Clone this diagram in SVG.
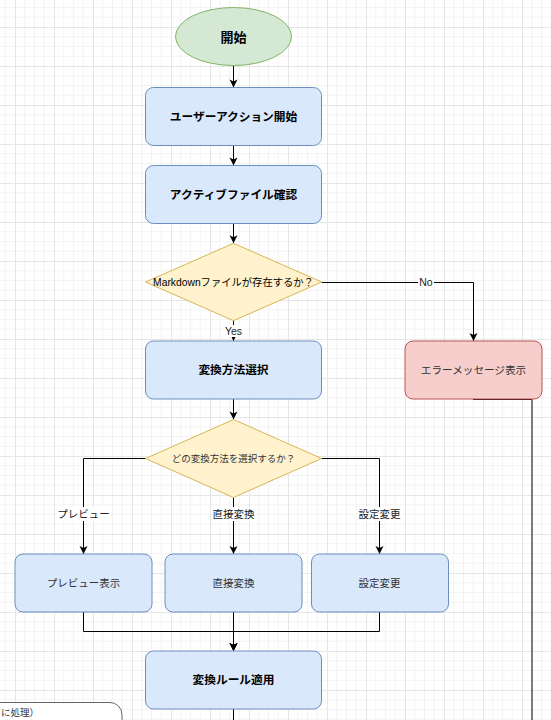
<svg xmlns="http://www.w3.org/2000/svg" width="551" height="720" viewBox="0 0 551 720">
<defs>
<pattern id="grid" x="15" y="27" width="39" height="39" patternUnits="userSpaceOnUse">
<path d="M9.75 0V39M19.5 0V39M29.25 0V39M0 9.75H39M0 19.5H39M0 29.25H39" stroke="#f3f3f3" stroke-width="1" fill="none"/>
<path d="M0.5 0V39M0 0.5H39" stroke="#e6e6e6" stroke-width="1" fill="none"/>
</pattern>
<marker id="arr" markerWidth="10" markerHeight="10" viewBox="0 0 10 10" refX="9" refY="5" orient="auto" markerUnits="userSpaceOnUse">
<path d="M1,1 L9,5 L1,9 L3,5 Z" fill="#000"/>
</marker>
</defs>
<style>
text{font-family:"Liberation Sans","Noto Sans CJK JP",sans-serif;text-anchor:middle}
.blue{fill:#dae8fc;stroke:#6c8ebf;stroke-width:1}
.dia{fill:#fff2cc;stroke:#d6b656;stroke-width:1}
.bold{font-weight:bold;font-size:11.7px;fill:#000}
.norm{font-size:10.5px;fill:#333}
.edge{fill:none;stroke:#000;stroke-width:1}
.lbl{font-size:10.5px;fill:#222}
.lblbg{fill:#fff}
</style>
<rect width="551" height="720" fill="#fff"/>
<rect width="551" height="720" fill="url(#grid)"/>

<g id="connectors">
<path class="edge" d="M233.5,66 V87.5" marker-end="url(#arr)"/>
<path class="edge" d="M233.5,145.5 V165.5" marker-end="url(#arr)"/>
<path class="edge" d="M233.5,223.5 V243.3" marker-end="url(#arr)"/>
<path class="edge" d="M321.7,282.5 H473.5 V341" marker-end="url(#arr)"/>
<rect class="lblbg" x="418" y="276" width="16" height="12"/>
<text class="lbl" x="426" y="286" style="font-size:10.5px">No</text>
<path class="edge" d="M233.5,320.7 V341" marker-end="url(#arr)"/>
<rect class="lblbg" x="224" y="325" width="19" height="12"/>
<text class="lbl" x="233.5" y="335">Yes</text>
<path class="edge" d="M233.5,399 V419.5" marker-end="url(#arr)"/>
<path class="edge" d="M146,458.5 H83.5 V554" marker-end="url(#arr)"/>
<rect class="lblbg" x="57" y="507" width="53" height="14"/>
<text class="lbl" x="83.5" y="518">プレビュー</text>
<path class="edge" d="M233.5,497.5 V554" marker-end="url(#arr)"/>
<rect class="lblbg" x="211" y="507" width="45" height="14"/>
<text class="lbl" x="233.5" y="518">直接変換</text>
<path class="edge" d="M321.5,458.5 H379.5 V554" marker-end="url(#arr)"/>
<rect class="lblbg" x="357" y="507" width="45" height="14"/>
<text class="lbl" x="379.5" y="518">設定変更</text>
<path class="edge" d="M83.5,612 V631.5 H233.5 V651" marker-end="url(#arr)"/>
<path class="edge" d="M233.5,612 V651" marker-end="url(#arr)"/>
<path class="edge" d="M379.5,612 V631.5 H233.5 V651" marker-end="url(#arr)"/>
<path class="edge" d="M473,399.5 H532 V720"/>
<path class="edge" d="M233.5,709 V720"/>
</g>

<g id="start">
<ellipse cx="233.5" cy="36.5" rx="58" ry="29" fill="#d5e8d4" stroke="#82b366" stroke-width="1"/>
<text x="233.5" y="41.5" style="font-weight:bold;font-size:13px;fill:#000">開始</text>
</g>
<g id="user-action">
<rect class="blue" x="145.5" y="87.5" width="176" height="58" rx="8"/>
<text class="bold" x="233.5" y="120.5">ユーザーアクション開始</text>
</g>
<g id="active-file">
<rect class="blue" x="145.5" y="165.5" width="176" height="58" rx="8"/>
<text class="bold" x="233.5" y="198.5">アクティブファイル確認</text>
</g>
<g id="decision-md">
<polygon class="dia" points="233.5,243.3 321.7,282 233.5,320.7 145.5,282"/>
<text x="233.5" y="285.5" style="font-size:10.3px;fill:#000">Markdownファイルが存在するか？</text>
</g>
<g id="select-method">
<rect class="blue" x="145.5" y="341" width="176" height="58" rx="8"/>
<text class="bold" x="233.5" y="374">変換方法選択</text>
</g>
<g id="error">
<rect x="405" y="341" width="137" height="58" rx="8" fill="#f8cecc" stroke="#b85450" stroke-width="1"/>
<text x="473.5" y="373.5" style="font-size:10.6px;fill:#333">エラーメッセージ表示</text>
</g>
<g id="decision-method">
<polygon class="dia" points="233.5,419.5 321.5,458.5 233.5,497.5 145.5,458.5"/>
<text x="233.5" y="462" style="font-size:9.5px;fill:#333">どの変換方法を選択するか？</text>
</g>
<g id="preview">
<rect class="blue" x="15" y="554" width="137" height="58" rx="8"/>
<text class="norm" x="83.5" y="586.5">プレビュー表示</text>
</g>
<g id="direct">
<rect class="blue" x="165" y="554" width="137" height="58" rx="8"/>
<text class="norm" x="233.5" y="586.5">直接変換</text>
</g>
<g id="settings">
<rect class="blue" x="311.5" y="554" width="137" height="58" rx="8"/>
<text class="norm" x="379.5" y="586.5">設定変更</text>
</g>
<g id="apply-rules">
<rect class="blue" x="145.5" y="651" width="176" height="58" rx="8"/>
<text class="bold" x="233.5" y="684">変換ルール適用</text>
</g>
<g id="parallel">
<rect x="-30" y="702.5" width="152" height="40" rx="12" fill="#fff" stroke="#666" stroke-width="1"/>
<text x="1" y="716" style="text-anchor:start;font-size:9.5px;fill:#333">に処理）</text>
</g>
</svg>
